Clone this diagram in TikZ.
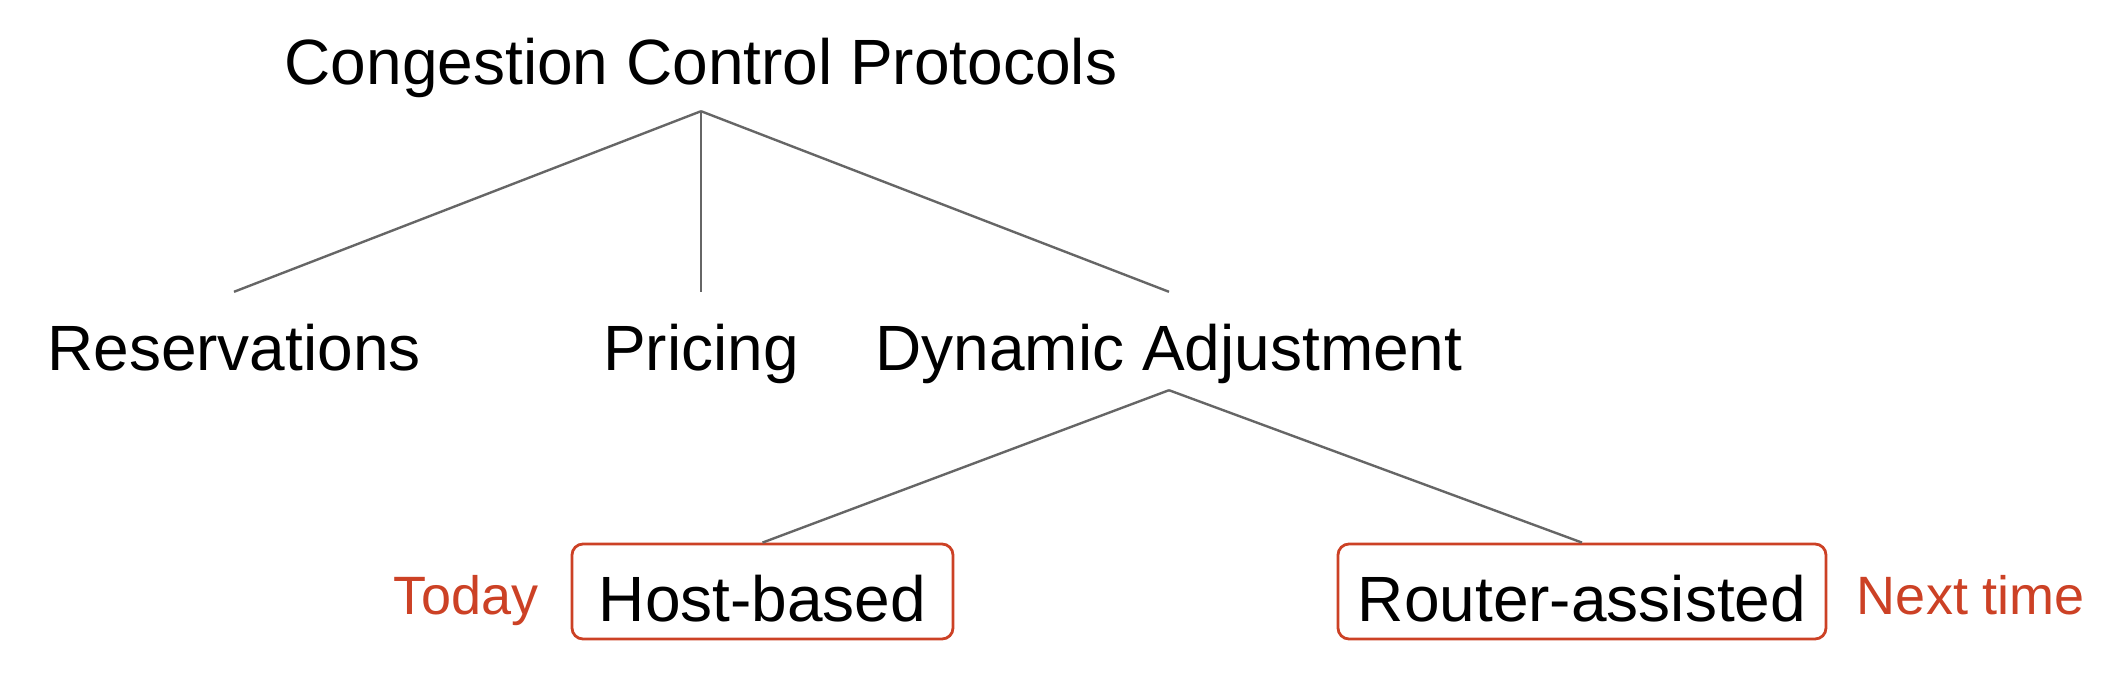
\documentclass[tikz,border=0pt]{standalone}
\usepackage{fontspec}
\setmainfont{Liberation Sans}
\definecolor{accent}{HTML}{CC4125}
\definecolor{linegray}{HTML}{666666}
\begin{document}
\begin{tikzpicture}[x=1pt,y=-1pt,
  big/.style={font=\fontsize{64}{70}\selectfont, inner sep=0pt},
  lvl/.style={big, anchor=base, text height=78pt, text depth=20pt},
  boxed/.style={big, draw=accent, line width=2.8pt, rounded corners=11pt,
    text height=59pt, text depth=0pt, minimum height=95pt, anchor=center},
  note/.style={font=\fontsize{54}{60}\selectfont, text=accent, inner sep=0pt, anchor=base},
  conn/.style={draw=linegray, line width=2.4pt}]
\useasboundingbox (0,0) rectangle (2126,678);
\node[big, anchor=base, text depth=27pt] (root) at (701,84) {Congestion Control Protocols};
\node[lvl] (res) at (234,370) {Reservations};
\node[lvl] (pri) at (701,370) {Pricing};
\node[lvl] (dyn) at (1169,370) {Dynamic Adjustment};
\node[boxed, minimum width=381pt] (host) at (762.5,591.5) {Host-based};
\node[boxed, minimum width=488pt] (router) at (1582,591.5) {Router-assisted};
\node[note] (today) at (466,614) {Today};
\node[note] (next) at (1971,614) {Next time};
\draw[conn] (root.south) -- (res.north);
\draw[conn] (root.south) -- (pri.north);
\draw[conn] (root.south) -- (dyn.north);
\draw[conn] (dyn.south) -- (host.north);
\draw[conn] (dyn.south) -- (router.north);
\end{tikzpicture}
\end{document}
